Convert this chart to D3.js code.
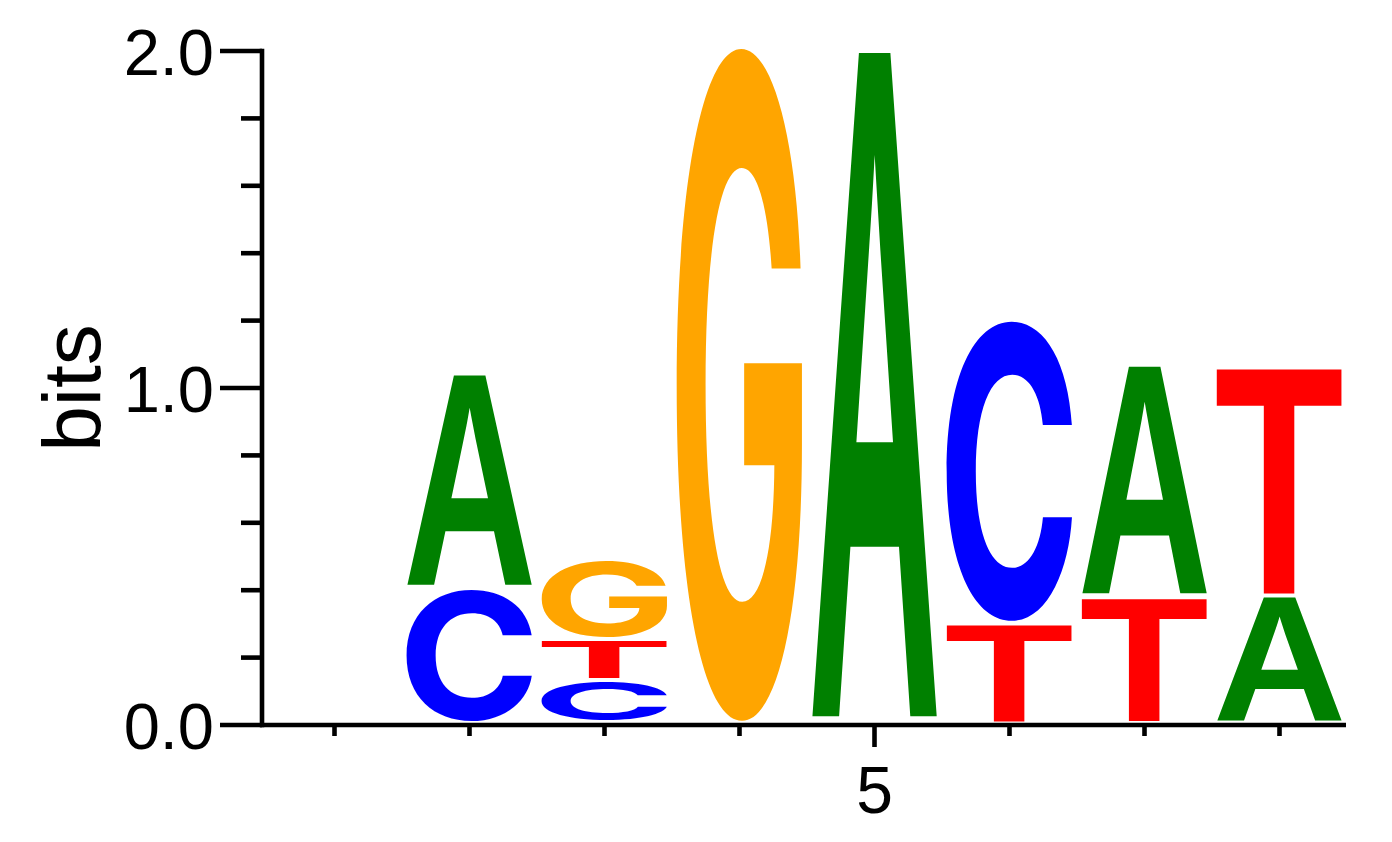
<!DOCTYPE html>
<html>
<head>
<meta charset="utf-8">
<script src="https://cdn.jsdelivr.net/npm/d3@7"></script>
<style>
  html, body { margin: 0; padding: 0; background: #fff; }
  svg { display: block; }
</style>
</head>
<body>
<svg id="chart" width="1392" height="842"></svg>
<script>
// ---- data ----
const positions = [1, 2, 3, 4, 5, 6, 7, 8];
// letters per position, stacked bottom to top
const columnLetters = [[], ["C", "A"], ["C", "T", "G"], ["G"], ["A"], ["T", "C"], ["T", "A"], ["A", "T"]];
// heights in bits for each letter above
const columnBits = [[], [0.400, 0.639], [0.128, 0.122, 0.238], [2.0], [2.0], [0.297, 0.897], [0.374, 0.691], [0.378, 0.684]];
const yTicks = [0, 0.2, 0.4, 0.6, 0.8, 1.0, 1.2, 1.4, 1.6, 1.8, 2.0];
const yMajorLabels = { 0: "0.0", 1: "1.0", 2: "2.0" };
const xLabels = { 5: "5" };
const letterColors = { A: "#008000", C: "#0000FF", G: "#FFA500", T: "#FF0000" };

const svg = d3.select("#chart");
const x = d3.scaleLinear().domain([0.5, 8.5]).range([267, 1347]);
const y = d3.scaleLinear().domain([0, 2]).range([725, 51]);
const colStep = x(2) - x(1);
const letterW = colStep * 0.933;
const SW = 4.6;

const FONT = "'Liberation Sans', Arial, Helvetica, sans-serif";
const letterFonts = { A: "'Liberation Sans'", C: "'Inter'", G: "'Inter'", T: "'Liberation Sans'" };

// measure glyph ink boxes
const canvas = document.createElement("canvas");
const ctx = canvas.getContext("2d");
const FS = 200;
const metrics = {};
["A", "C", "G", "T"].forEach(ch => {
  ctx.font = `bold ${FS}px ${letterFonts[ch]}`;
  const m = ctx.measureText(ch);
  metrics[ch] = { left: m.actualBoundingBoxLeft, right: m.actualBoundingBoxRight,
                  ascent: m.actualBoundingBoxAscent, descent: m.actualBoundingBoxDescent };
});

// letters
const glyphs = [];
positions.forEach((p, i) => {
  let base = 0;
  columnLetters[i].forEach((ch, j) => {
    const h = columnBits[i][j];
    glyphs.push({ p, ch, base, h });
    base += h;
  });
});

const gl = svg.append("g");
gl.selectAll("text").data(glyphs).join("text")
  .attr("transform", d => {
    const m = metrics[d.ch];
    const x0 = x(d.p) - letterW / 2;
    const yTop = y(d.base + d.h);
    const yBot = y(d.base) - 4;
    const sx = letterW / (m.left + m.right);
    const sy = (yBot - yTop) / (m.ascent + m.descent);
    return `translate(${x0},${yTop}) scale(${sx},${sy}) translate(${m.left},${m.ascent})`;
  })
  .attr("font-family", d => letterFonts[d.ch])
  .attr("font-weight", "bold")
  .attr("font-size", FS)
  .attr("fill", d => letterColors[d.ch])
  .text(d => d.ch);

// y axis
const ya = svg.append("g");
ya.append("line").attr("x1", 262).attr("x2", 262).attr("y1", y(2) - SW / 2).attr("y2", y(0) + SW / 2)
  .attr("stroke", "#000").attr("stroke-width", SW);
ya.selectAll("line.tick").data(yTicks).join("line").attr("class", "tick")
  .attr("x1", d => (Math.abs(d - Math.round(d)) < 1e-9 ? 220 : 241)).attr("x2", 262)
  .attr("y1", d => y(d)).attr("y2", d => y(d))
  .attr("stroke", "#000").attr("stroke-width", SW);
ya.selectAll("text").data(Object.keys(yMajorLabels)).join("text")
  .attr("x", 214).attr("y", d => y(+d) + 23.5)
  .attr("text-anchor", "end")
  .attr("font-family", FONT).attr("font-size", 65).attr("fill", "#000")
  .text(d => yMajorLabels[d]);

// x axis
const xa = svg.append("g");
xa.append("line").attr("x1", 260).attr("x2", 1346).attr("y1", y(0)).attr("y2", y(0))
  .attr("stroke", "#000").attr("stroke-width", SW);
xa.selectAll("line.tick").data(positions).join("line").attr("class", "tick")
  .attr("x1", d => x(d)).attr("x2", d => x(d))
  .attr("y1", y(0)).attr("y2", d => (xLabels[d] ? 747 : 736))
  .attr("stroke", "#000").attr("stroke-width", SW);
xa.selectAll("text").data(positions.filter(p => xLabels[p])).join("text")
  .attr("x", d => x(d)).attr("y", 813)
  .attr("text-anchor", "middle")
  .attr("font-family", FONT).attr("font-size", 66).attr("fill", "#000")
  .text(d => xLabels[d]);

// y label
svg.append("text")
  .attr("transform", "translate(100,388) rotate(-90)")
  .attr("text-anchor", "middle")
  .attr("font-family", FONT).attr("font-size", 82).attr("fill", "#000")
  .text("bits");
</script>
</body>
</html>
